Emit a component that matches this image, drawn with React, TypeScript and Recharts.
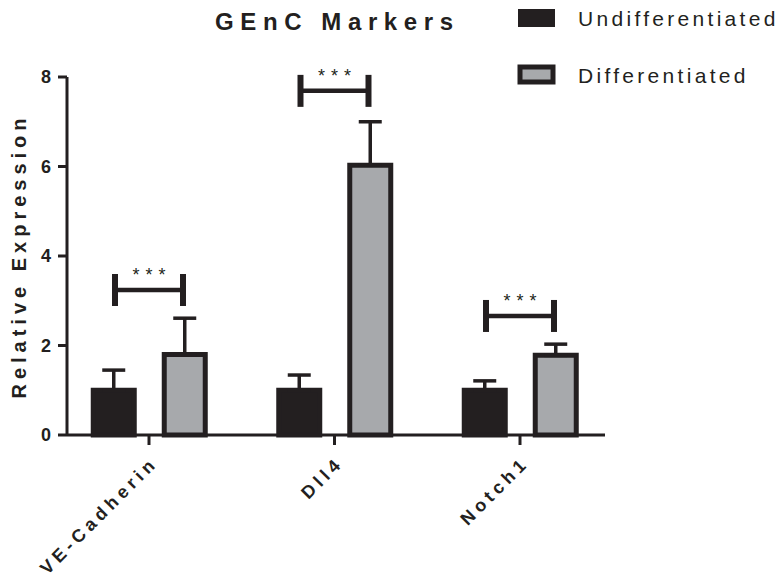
import {
  ComposedChart,
  Bar,
  Line,
  XAxis,
  YAxis,
  ErrorBar,
  Legend,
} from 'recharts';

// values (mean + upper SEM only)
const categories = ['VE-Cadherin', 'Dll4', 'Notch1'];
const undifferentiated = [1.0, 1.0, 1.0];
const undifferentiatedErr = [0.45, 0.34, 0.21];
const differentiated = [1.8, 6.03, 1.78];
const differentiatedErr = [0.81, 0.97, 0.25];
// height of the *** bracket for each pair
const significance = [3.24, 7.69, 2.66];
const yTicks = [0, 2, 4, 6, 8];

const INK = '#231f20';
const GREY = '#a7a9ac';
const FONT = '"Liberation Sans", Arial, sans-serif';

const data = categories.map((name, i) => ({
  name,
  undiff: undifferentiated[i],
  undiffErr: [0, undifferentiatedErr[i]],
  diff: differentiated[i],
  diffErr: [0, differentiatedErr[i]],
  sig: significance[i],
}));

// bracket between the two bars of a group, with stars on top
const Bracket = (props: any) => {
  const { cx, cy, index } = props;
  if (cx == null || cy == null) return <g key={index} />;
  const half = 34;
  return (
    <g key={index}>
      <line x1={cx - half} x2={cx + half} y1={cy} y2={cy} stroke={INK} strokeWidth={4.5} />
      <line x1={cx - half} x2={cx - half} y1={cy - 16} y2={cy + 16} stroke={INK} strokeWidth={6} />
      <line x1={cx + half} x2={cx + half} y1={cy - 16} y2={cy + 16} stroke={INK} strokeWidth={6} />
      <text
        x={cx + 3}
        y={cy - 9}
        textAnchor="middle"
        fontFamily={FONT}
        fontSize={18}
        letterSpacing={6}
        fill={INK}
      >
        ***
      </text>
    </g>
  );
};

const CategoryTick = (props: any) => {
  const { x, payload } = props;
  const tx = x + 10;
  const ty = 464;
  return (
    <text
      x={tx}
      y={ty}
      transform={`rotate(-45, ${tx}, ${ty})`}
      textAnchor="end"
      fontFamily={FONT}
      fontWeight="bold"
      fontSize={18}
      letterSpacing={4.5}
      fill={INK}
    >
      {payload.value}
    </text>
  );
};

const YLabel = () => (
  <text
    x={26}
    y={256}
    transform="rotate(-90, 26, 256)"
    textAnchor="middle"
    fontFamily={FONT}
    fontWeight="bold"
    fontSize={20}
    letterSpacing={5}
    fill={INK}
  >
    Relative Expression
  </text>
);

const LegendBox = () => (
  <svg width={264} height={100}>
    <rect x={1} y={1} width={37} height={18} fill={INK} />
    <text x={61} y={18} fontFamily={FONT} fontSize={21} letterSpacing={3.3} fill={INK}>
      Undifferentiated
    </text>
    <rect x={3} y={59} width={33} height={15} fill={GREY} stroke={INK} strokeWidth={5} />
    <text x={61} y={75} fontFamily={FONT} fontSize={21} letterSpacing={3.3} fill={INK}>
      Differentiated
    </text>
  </svg>
);

export default function App() {
  return (
    <div style={{ position: 'absolute', left: 0, top: 0, width: 781, height: 580, background: '#fff' }}>
      <svg
        width={781}
        height={60}
        style={{ position: 'absolute', left: 0, top: 0, zIndex: 1, pointerEvents: 'none' }}
      >
        <text x={215} y={30} fontFamily={FONT} fontWeight="bold" fontSize={24} letterSpacing={6.6} fill={INK}>
          GEnC Markers
        </text>
      </svg>
      <ComposedChart
        width={781}
        height={580}
        data={data}
        margin={{ top: 77, right: 176, bottom: 0, left: 0 }}
        barGap={30}
      >
        <XAxis
          dataKey="name"
          padding={{ left: -10.75, right: -7.75 }}
          axisLine={{ stroke: INK, strokeWidth: 3 }}
          tickLine={{ stroke: INK, strokeWidth: 3 }}
          tickSize={10}
          tick={<CategoryTick />}
          interval={0}
          height={145}
        />
        <YAxis
          domain={[0, 8]}
          ticks={yTicks}
          width={67}
          axisLine={{ stroke: INK, strokeWidth: 3 }}
          tickLine={{ stroke: INK, strokeWidth: 3 }}
          tickSize={9}
          tickMargin={7}
          tick={{ fill: INK, fontSize: 18, fontWeight: 'bold', fontFamily: FONT }}
          label={<YLabel />}
        />
        <Legend
          layout="horizontal"
          verticalAlign="middle"
          align="center"
          content={<LegendBox />}
          wrapperStyle={{ left: 517, top: 8, width: 264, height: 100 }}
        />
        <Bar
          dataKey="undiff"
          name="Undifferentiated"
          fill={INK}
          stroke={INK}
          strokeWidth={5}
          barSize={41}
          isAnimationActive={false}
        >
          <ErrorBar dataKey="undiffErr" direction="y" width={11.5} stroke={INK} strokeWidth={3.5} />
        </Bar>
        <Bar
          dataKey="diff"
          name="Differentiated"
          fill={GREY}
          stroke={INK}
          strokeWidth={5}
          barSize={41}
          isAnimationActive={false}
        >
          <ErrorBar dataKey="diffErr" direction="y" width={11.5} stroke={INK} strokeWidth={3.5} />
        </Bar>
        <Line
          dataKey="sig"
          stroke="none"
          dot={Bracket}
          activeDot={false}
          legendType="none"
          isAnimationActive={false}
        />
      </ComposedChart>
    </div>
  );
}
